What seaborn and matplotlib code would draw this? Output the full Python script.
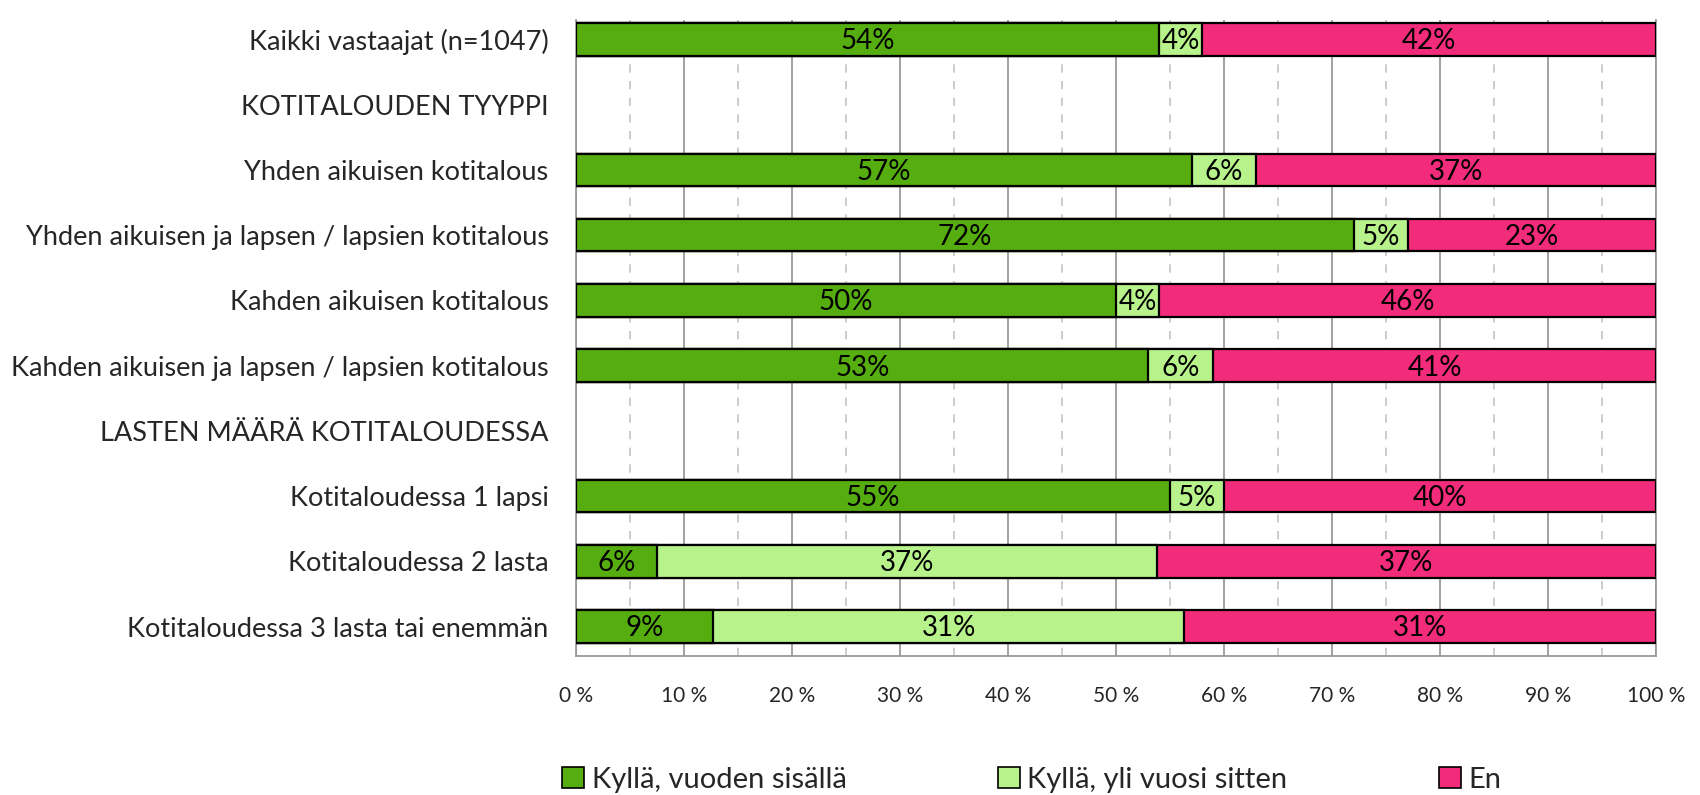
import numpy as np
import pandas as pd
import matplotlib
matplotlib.use("Agg")
import matplotlib.pyplot as plt
import seaborn as sns
from matplotlib.patches import Patch
from matplotlib.ticker import MultipleLocator, FuncFormatter

categories = [
    "Kaikki vastaajat (n=1047)",
    "KOTITALOUDEN TYYPPI",
    "Yhden aikuisen kotitalous",
    "Yhden aikuisen ja lapsen / lapsien kotitalous",
    "Kahden aikuisen kotitalous",
    "Kahden aikuisen ja lapsen / lapsien kotitalous",
    "LASTEN MÄÄRÄ KOTITALOUDESSA",
    "Kotitaloudessa 1 lapsi",
    "Kotitaloudessa 2 lasta",
    "Kotitaloudessa 3 lasta tai enemmän",
]
vuoden_sisalla = [54, np.nan, 57, 72, 50, 53, np.nan, 55, 6, 9]
yli_vuosi_sitten = [4, np.nan, 6, 5, 4, 6, np.nan, 5, 37, 31]
en = [42, np.nan, 37, 23, 46, 41, np.nan, 40, 37, 31]

series_names = ["Kyllä, vuoden sisällä", "Kyllä, yli vuosi sitten", "En"]
colors = ["#56AD10", "#B7F28A", "#F22B7A"]

df = pd.DataFrame({
    "ryhma": categories,
    "a": vuoden_sisalla,
    "b": yli_vuosi_sitten,
    "c": en,
})
total = df["a"] + df["b"] + df["c"]
# bars are scaled to 100 %, labels show the raw values
df["p1"] = df["a"] / total * 100
df["p2"] = (df["a"] + df["b"]) / total * 100
df["p3"] = total / total * 100

sns.set_style("white")
plt.rcParams["font.family"] = ["Lato", "DejaVu Sans"]

fig = plt.figure(figsize=(17, 7.95), dpi=100)
ax = fig.add_axes([0.339, 0.175, 0.635, 0.8])

for col, c in zip(["p3", "p2", "p1"], colors[::-1]):
    sns.barplot(data=df, y="ryhma", x=col, order=categories, color=c,
                saturation=1, edgecolor="black", linewidth=1.6, width=0.5,
                errorbar=None, ax=ax, zorder=3)

for i, row in df.iterrows():
    if np.isnan(row["a"]):
        continue
    starts = [0, row["p1"], row["p2"]]
    ends = [row["p1"], row["p2"], row["p3"]]
    for s, e, v in zip(starts, ends, [row["a"], row["b"], row["c"]]):
        ax.text((s + e) / 2, i + 0.03, f"{v:.0f}%", ha="center", va="center",
                fontsize=20, color="black", zorder=4)

ax.set_xlim(0, 100)
ax.set_ylim(9.45, -0.3)
ax.xaxis.set_major_locator(MultipleLocator(10))
ax.xaxis.set_minor_locator(MultipleLocator(5))
ax.xaxis.set_major_formatter(FuncFormatter(lambda v, p: f"{v:.0f} %"))
ax.grid(axis="x", which="major", color="#9a9a9a", linewidth=1.3, zorder=0)
ax.grid(axis="x", which="minor", color="#c4c4c4", linewidth=1.2,
        linestyle=(0, (5, 5)), zorder=0)
ax.set_axisbelow(True)
ax.set_xlabel("")
ax.set_ylabel("")
ax.tick_params(axis="y", length=0, pad=20, labelsize=19.5)
ax.tick_params(axis="x", which="both", length=0, pad=22, labelsize=15)
ax.spines["top"].set_visible(False)
for s in ["left", "bottom", "right"]:
    ax.spines[s].set_color("#9a9a9a")
    ax.spines[s].set_linewidth(1.3)

handles = [Patch(facecolor=c, edgecolor="black", linewidth=1.2) for c in colors]
fig.legend(handles, series_names, loc="lower center", ncol=3,
           bbox_to_anchor=(0.607, -0.03), frameon=False, fontsize=21,
           columnspacing=5.2, handlelength=0.75, handleheight=0.75,
           handletextpad=0.25)

fig.savefig("out.png", dpi=100)
